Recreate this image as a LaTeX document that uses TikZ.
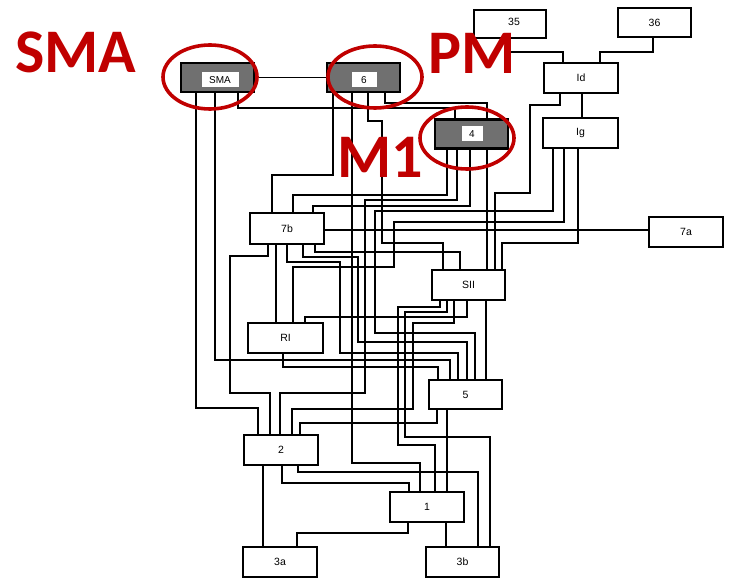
\documentclass[tikz,border=0pt]{standalone}
\usepackage{fontspec}
\newfontfamily\lblfont{Liberation Sans}
\newfontfamily\annfont{Carlito}
\definecolor{annred}{RGB}{192,0,0}
\definecolor{boxgrey}{RGB}{112,112,112}
\begin{document}
\begin{tikzpicture}[x=1pt,y=-1pt,
  wire/.style={line width=1.4pt},
  box/.style={draw, line width=2.7pt, fill=white, minimum width=73pt, minimum height=29pt, inner sep=0pt, font=\lblfont\fontsize{10.5}{11}\selectfont},
  thinbox/.style={box, line width=1.4pt},
  gbox/.style={box, fill=boxgrey},
  glabel/.style={fill=white, inner sep=0pt, minimum height=15pt, font=\lblfont\fontsize{10}{11}\selectfont},
  ring/.style={draw=annred, line width=3.6pt},
  ann/.style={text=annred, inner sep=0pt, text height=40pt, text depth=0pt, font=\annfont\bfseries\fontsize{62}{62}\selectfont}]
\useasboundingbox (0,0) rectangle (731,580);
% boxes
\node[gbox] (SMA) at (217.5,77.5) {};
\node[glabel, minimum width=37pt] (SMAl) at (220,80) {SMA};
\node[gbox] (six) at (363.5,77.5) {};
\node[glabel, minimum width=25pt] (sixl) at (364,80) {6};
\node[gbox] (four) at (471.5,134) {};
\node[glabel, minimum width=21pt] (fourl) at (472,134) {4};
\node[thinbox, minimum width=72pt, minimum height=28pt] (b35) at (510,24) {};
\node[font=\lblfont\fontsize{10.5}{11}\selectfont, inner sep=0pt] (b35l) at (514,22) {35};
\node[thinbox] (b36) at (654.5,22.5) {36};
\node[box, minimum width=74pt, minimum height=30pt] (Id) at (581,78) {Id};
\node[box, minimum width=75pt, minimum height=30pt] (Ig) at (580.5,133) {Ig};
\node[box, minimum width=74pt, minimum height=31pt] (b7b) at (287,228.5) {7b};
\node[thinbox, minimum width=74pt, minimum height=30pt] (b7a) at (686,232) {7a};
\node[box, minimum height=30pt] (SII) at (468.5,285) {SII};
\node[box, minimum width=75pt, minimum height=30pt] (RI) at (285.5,338) {RI};
\node[box] (b5) at (465.5,394.5) {5};
\node[box, minimum width=74pt, minimum height=30pt] (b2) at (281,450) {2};
\node[box, minimum width=74pt, minimum height=30pt] (b1) at (427,507) {1};
\node[box, minimum width=74pt, minimum height=30pt] (b3a) at (280,562) {3a};
\node[box, minimum height=30pt] (b3b) at (462.5,562) {3b};
% wires
\begin{scope}[wire]
\draw (SMA) -- (six);
\draw (SMA.south -| 238,0) |- (455,108) -- (four.north -| 455,0);
\draw (six.south -| 385,0) |- (487,103) -- (four.north -| 487,0);
\draw (six.south -| 333,0) |- (272,175) -- (b7b.north -| 272,0);
\draw (six.south -| 352,0) |- (420,463) -- (b1.north -| 420,0);
\draw (six.south -| 368,0) |- (382,121) |- (443,243) -- (SII.north -| 443,0);
\draw (four.south -| 447,0) |- (293,195) -- (b7b.north -| 293,0);
\draw (four.south -| 457,0) |- (365,200) |- (280,393) -- (b2.north -| 280,0);
\draw (four.south -| 470,0) |- (313,206) -- (b7b.north -| 313,0);
\draw (four.south -| 487,0) -- (SII.north -| 487,0);
\draw (b35.south) |- (563,52) -- (Id.north -| 563,0);
\draw (b36.south -| 653,0) |- (600,52) -- (Id.north -| 600,0);
\draw (Id.south -| 582,0) -- (Ig.north -| 582,0);
\draw (Id.south -| 560,0) |- (530,105) |- (495,193) -- (SII.north -| 495,0);
\draw (Ig.south -| 553,0) |- (375,211) |- (475,333) -- (b5.north -| 475,0);
\draw (Ig.south -| 564,0) |- (394,222) |- (293,267) -- (RI.north -| 293,0);
\draw (Ig.south -| 578,0) |- (502,243) -- (SII.north -| 502,0);
\draw (b7b.east |- 0,230) -- (b7a.west |- 0,230);
\draw (b7b.south -| 268,0) |- (230,256) |- (270,393) -- (b2.north -| 270,0);
\draw (b7b.south -| 276,0) -- (RI.north -| 276,0);
\draw (b7b.south -| 287,0) |- (340,262) |- (458,353) -- (b5.north -| 458,0);
\draw (b7b.south -| 303,0) |- (358,257) |- (467,342) -- (b5.north -| 467,0);
\draw (b7b.south -| 315,0) |- (460,252) -- (SII.north -| 460,0);
\draw (SMA.south -| 196,0) |- (258,408) -- (b2.north -| 258,0);
\draw (SMA.south -| 215,0) |- (450,360) -- (b5.north -| 450,0);
\draw (RI.south -| 283,0) |- (438,367) -- (b5.north -| 438,0);
\draw (SII.south -| 440,0) |- (398,307) |- (435,445) -- (b1.north -| 435,0);
\draw (SII.south -| 447,0) |- (405,312) |- (490,437) -- (b3b.north -| 490,0);
\draw (SII.south -| 454,0) |- (413,323) |- (292,409) -- (b2.north -| 292,0);
\draw (SII.south -| 467,0) |- (305,317) -- (RI.north -| 305,0);
\draw (SII.south -| 486,0) -- (b5.north -| 486,0);
\draw (b5.south -| 437,0) |- (300,423) -- (b2.north -| 300,0);
\draw (b5.south -| 447,0) -- (b1.north -| 447,0);
\draw (b2.south -| 263,0) -- (b3a.north -| 263,0);
\draw (b2.south -| 282,0) |- (409,483) -- (b1.north -| 409,0);
\draw (b2.south -| 298,0) |- (478,472) -- (b3b.north -| 478,0);
\draw (b1.south -| 408,0) |- (297,533) -- (b3a.north -| 297,0);
\draw (b1.south -| 446,0) -- (b3b.north -| 446,0);
\end{scope}
% annotations
\draw[ring] (210,77) ellipse [x radius=47pt, y radius=32pt];
\draw[ring] (375,77) ellipse [x radius=47pt, y radius=31pt];
\draw[ring] (467,138) ellipse [x radius=47pt, y radius=31pt];
\node[ann, anchor=base west] (annSMA) at (15,73) {SMA};
\node[ann, anchor=base west] (annPM) at (428,74) {PM};
\node[ann, anchor=base west] (annM1) at (337,178) {M1};
\end{tikzpicture}
\end{document}
